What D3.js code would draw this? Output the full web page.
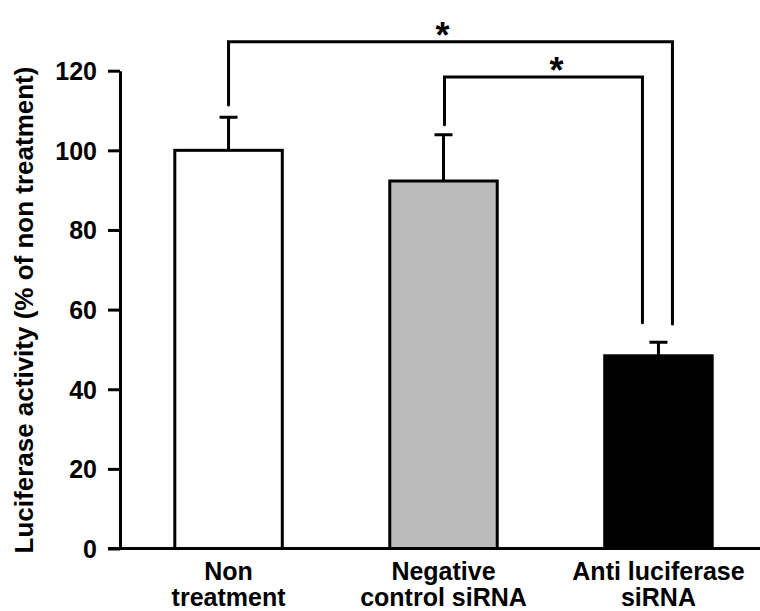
<!DOCTYPE html>
<html>
<head>
<meta charset="utf-8">
<script src="https://cdn.jsdelivr.net/npm/d3@7"></script>
<style>
  body { margin: 0; background: #fff; }
  svg text { font-family: "Liberation Sans", Arial, sans-serif; font-weight: bold; fill: #000; }
</style>
</head>
<body>
<div id="chart"></div>
<script>
var categories = ["Non treatment", "Negative control siRNA", "Anti luciferase siRNA"];
var labelLines = [["Non", "treatment"], ["Negative", "control siRNA"], ["Anti luciferase", "siRNA"]];
var values = [100, 92.3, 48.4];
var errors = [8.3, 11.6, 3.4];
var fills = ["#ffffff", "#bbbbbb", "#000000"];
var yTicks = [0, 20, 40, 60, 80, 100, 120];
var yTitle = "Luciferase activity (% of non treatment)";

// significance brackets: from/to category, bar-side offsets (px), leg ends and level in data units
var comparisons = [
  {from: 0, to: 2, fromOff: 0, toOff: 14, fromEnd: 111.4, toEnd: 56.4, level: 127.3, star: -8},
  {from: 1, to: 2, fromOff: 1, toOff: -16, fromEnd: 106.4, toEnd: 56.7, level: 118.4, star: 13}
];

var width = 760, height = 611;

var svg = d3.select("#chart").append("svg")
    .attr("width", width)
    .attr("height", height);

var x = d3.scaleBand()
    .domain(categories)
    .range([120, 767])
    .paddingInner(0.5)
    .paddingOuter(0.255);

var y = d3.scaleLinear()
    .domain([0, 120])
    .range([548.5, 70.7]);

// bars
svg.selectAll(".bar")
    .data(categories)
    .enter().append("rect")
    .attr("class", "bar")
    .attr("x", function(d) { return x(d); })
    .attr("y", function(d, i) { return y(values[i]); })
    .attr("width", x.bandwidth())
    .attr("height", function(d, i) { return y(0) - y(values[i]); })
    .style("fill", function(d, i) { return fills[i]; })
    .style("stroke", "#000")
    .style("stroke-width", 3);

// error bars
var cx = function(d) { return x(d) + x.bandwidth() / 2; };
svg.selectAll(".err")
    .data(categories)
    .enter().append("path")
    .attr("class", "err")
    .attr("d", function(d, i) {
        var top = y(values[i] + errors[i]);
        return "M" + cx(d) + "," + y(values[i]) + "V" + top +
               "M" + (cx(d) - 9) + "," + top + "H" + (cx(d) + 9);
    })
    .style("fill", "none")
    .style("stroke", "#000")
    .style("stroke-width", 3);

// brackets
svg.selectAll(".bracket")
    .data(comparisons)
    .enter().append("path")
    .attr("class", "bracket")
    .attr("d", function(c) {
        var x1 = cx(categories[c.from]) + c.fromOff,
            x2 = cx(categories[c.to]) + c.toOff;
        return "M" + x1 + "," + y(c.fromEnd) + "V" + y(c.level) +
               "H" + x2 + "V" + y(c.toEnd);
    })
    .style("fill", "none")
    .style("stroke", "#000")
    .style("stroke-width", 3)
    .style("stroke-linecap", "round");

svg.selectAll(".star")
    .data(comparisons)
    .enter().append("text")
    .attr("class", "star")
    .attr("x", function(c) {
        var x1 = cx(categories[c.from]) + c.fromOff,
            x2 = cx(categories[c.to]) + c.toOff;
        return (x1 + x2) / 2 + c.star;
    })
    .attr("y", function(c) { return y(c.level) + 6; })
    .attr("text-anchor", "middle")
    .style("font-size", "36px")
    .text("*");

// y axis
var yAxis = svg.append("g")
    .attr("transform", "translate(120,0)")
    .call(d3.axisLeft(y).tickValues(yTicks).tickSize(12).tickSizeOuter(0).tickPadding(11));
yAxis.selectAll("path, line").style("stroke", "#000").style("stroke-width", 3);
yAxis.selectAll("text").style("font-size", "25px").attr("dy", "0.36em");

// x axis
var xAxis = svg.append("g")
    .attr("transform", "translate(0,548.5)")
    .call(d3.axisBottom(x).tickSize(0).tickSizeOuter(0).tickFormat(""));
xAxis.select(".domain").attr("d", "M108,0H760").style("stroke", "#000").style("stroke-width", 3);

xAxis.selectAll(".tick text").each(function(d, i) {
    var t = d3.select(this).attr("y", 0).attr("dy", null).style("font-size", "25px");
    t.selectAll("tspan").data(labelLines[i]).enter().append("tspan")
        .attr("x", 0)
        .attr("y", function(l, j) { return 31 + j * 26.5; })
        .text(function(l) { return l; });
});

// y title
svg.append("text")
    .attr("transform", "translate(33,310) rotate(-90)")
    .attr("text-anchor", "middle")
    .style("font-size", "26px")
    .text(yTitle);
</script>
</body>
</html>
